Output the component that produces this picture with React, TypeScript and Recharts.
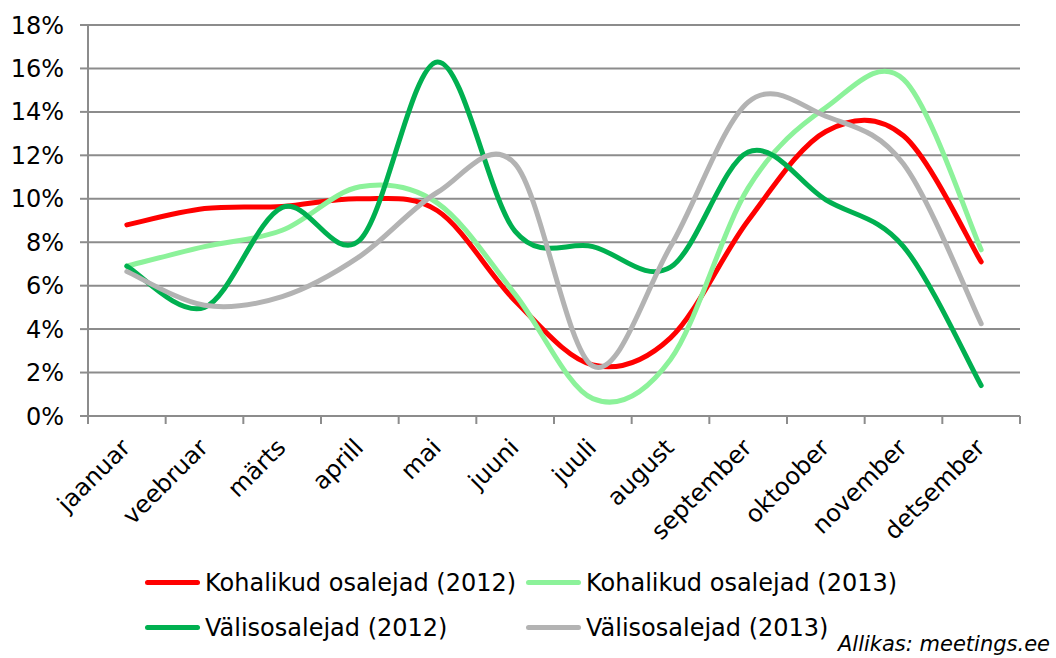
import { CartesianGrid, Legend, Line, LineChart, XAxis, YAxis } from "recharts";

const months = [
    "jaanuar",
    "veebruar",
    "märts",
    "aprill",
    "mai",
    "juuni",
    "juuli",
    "august",
    "september",
    "oktoober",
    "november",
    "detsember",
];

const local2012 = [8.8, 9.55, 9.65, 10.0, 9.45, 5.3, 2.35, 3.6, 9.0, 13.1, 12.9, 7.1];
const local2013 = [6.9, 7.8, 8.55, 10.55, 9.8, 5.6, 0.8, 2.6, 10.5, 14.2, 15.5, 7.65];
const foreign2012 = [6.9, 5.0, 9.6, 8.1, 16.3, 8.5, 7.8, 6.85, 12.15, 9.95, 7.8, 1.4];
const foreign2013 = [6.65, 5.1, 5.5, 7.35, 10.3, 11.6, 2.3, 7.8, 14.45, 13.8, 11.6, 4.25];

const yTicks = [0, 2, 4, 6, 8, 10, 12, 14, 16, 18];

const series = [
    { key: "local2012", name: "Kohalikud osalejad (2012)", color: "#ff0000" },
    { key: "local2013", name: "Kohalikud osalejad (2013)", color: "#8cf29a" },
    { key: "foreign2012", name: "Välisosalejad (2012)", color: "#00b050" },
    { key: "foreign2013", name: "Välisosalejad (2013)", color: "#b3b3b3" },
];

const data = months.map((month, i) => ({
    month,
    local2012: local2012[i],
    local2013: local2013[i],
    foreign2012: foreign2012[i],
    foreign2013: foreign2013[i],
}));

const FONT = "'DejaVu Sans', Verdana, sans-serif";
const GRID = "#8c8c8c";

// smoothing like the spreadsheet's "smoothed line" (catmull-rom through the points)
function smoothCurve(context: any) {
    let pts: number[][] = [];
    return {
        areaStart() {},
        areaEnd() {},
        lineStart() {
            pts = [];
        },
        lineEnd() {
            if (!pts.length) return;
            context.moveTo(pts[0][0], pts[0][1]);
            for (let i = 0; i < pts.length - 1; i++) {
                const p0 = pts[i - 1] || pts[i];
                const p1 = pts[i];
                const p2 = pts[i + 1];
                const p3 = pts[i + 2] || p2;
                context.bezierCurveTo(
                    p1[0] + (p2[0] - p0[0]) / 6,
                    p1[1] + (p2[1] - p0[1]) / 6,
                    p2[0] - (p3[0] - p1[0]) / 6,
                    p2[1] - (p3[1] - p1[1]) / 6,
                    p2[0],
                    p2[1]
                );
            }
        },
        point(x: number, y: number) {
            pts.push([+x, +y]);
        },
    };
}

// month label plus the tick marks on the category boundaries
function MonthTick(props: any) {
    const { x, y, payload, index, visibleTicksCount, width } = props;
    const half =
        payload && payload.offset ? payload.offset : width && visibleTicksCount ? width / visibleTicksCount / 2 : 0;
    const tx = x + 5;
    const ty = y + 33;
    const isLast = index === visibleTicksCount - 1;
    return (
        <g>
            <line x1={x - half} x2={x - half} y1={y} y2={y + 8} stroke={GRID} strokeWidth={2} />
            {isLast && <line x1={x + half} x2={x + half} y1={y} y2={y + 8} stroke={GRID} strokeWidth={2} />}
            <text
                x={tx}
                y={ty}
                transform={`rotate(-45 ${tx} ${ty})`}
                textAnchor="end"
                fontSize={24}
                fontFamily={FONT}
                fill="#000"
            >
                {payload.value}
            </text>
        </g>
    );
}

function LegendBox() {
    return (
        <div
            style={{
                height: 90,
                display: "grid",
                gridTemplateColumns: "381px 460px",
                gridAutoRows: "45px",
                paddingLeft: 145,
                fontFamily: FONT,
                fontSize: 24,
                color: "#000",
            }}
        >
            {series.map((s) => (
                <div key={s.key} style={{ display: "flex", alignItems: "center", whiteSpace: "nowrap" }}>
                    <span
                        style={{
                            display: "inline-block",
                            width: 55,
                            height: 5,
                            borderRadius: 3,
                            background: s.color,
                            marginRight: 5,
                        }}
                    />
                    {s.name}
                </div>
            ))}
        </div>
    );
}

export default function App() {
    return (
        <div style={{ position: "absolute", left: 0, top: 0, width: 1056, height: 658, background: "#fff" }}>
            <LineChart
                width={1056}
                height={658}
                data={data}
                margin={{ top: 25, right: 36, left: 0, bottom: 8 }}
            >
                <CartesianGrid vertical={false} stroke={GRID} strokeWidth={2} />
                <XAxis
                    dataKey="month"
                    scale="band"
                    height={144}
                    axisLine={{ stroke: GRID, strokeWidth: 2 }}
                    tickLine={false}
                    tickSize={0}
                    tickMargin={0}
                    interval={0}
                    tick={<MonthTick />}
                />
                <YAxis
                    width={88}
                    domain={[0, 18]}
                    ticks={yTicks}
                    interval={0}
                    tickFormatter={(v) => `${v}%`}
                    tickSize={8}
                    tickMargin={16}
                    axisLine={{ stroke: GRID, strokeWidth: 2 }}
                    tickLine={{ stroke: GRID, strokeWidth: 2 }}
                    tick={{ fill: "#000", fontSize: 24, fontFamily: FONT }}
                />
                <Legend
                    verticalAlign="bottom"
                    content={() => <LegendBox />}
                    wrapperStyle={{ left: 0, width: 1056 }}
                />
                {series.map((s) => (
                    <Line
                        key={s.key}
                        dataKey={s.key}
                        name={s.name}
                        type={smoothCurve as any}
                        stroke={s.color}
                        strokeWidth={5}
                        strokeLinecap="round"
                        dot={false}
                        activeDot={false}
                        isAnimationActive={false}
                    />
                ))}
            </LineChart>
            <div
                style={{
                    position: "absolute",
                    right: 6,
                    top: 632,
                    fontFamily: FONT,
                    fontStyle: "italic",
                    fontSize: 21,
                    color: "#000",
                    whiteSpace: "nowrap",
                }}
            >
                Allikas: meetings.ee
            </div>
        </div>
    );
}
